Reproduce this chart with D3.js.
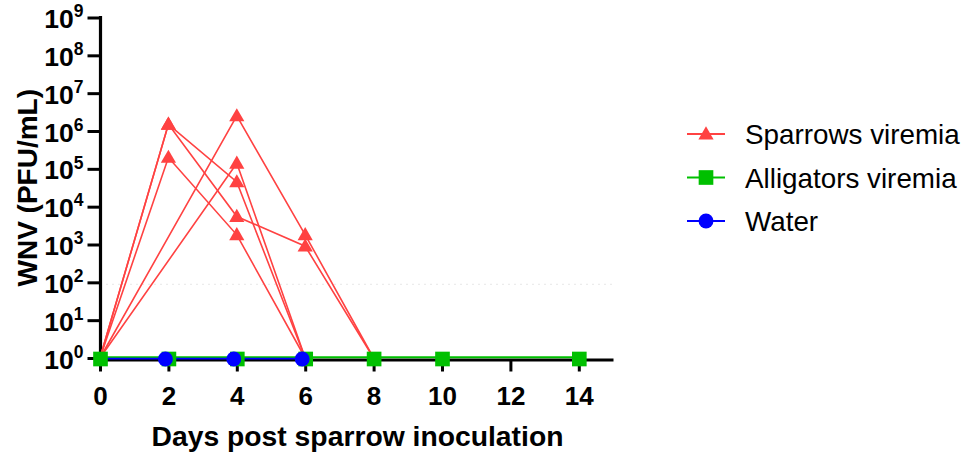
<!DOCTYPE html>
<html>
<head>
<meta charset="utf-8">
<script src="https://cdn.jsdelivr.net/npm/d3@7/dist/d3.min.js"></script>
<style>
  html, body { margin: 0; padding: 0; background: #fff; }
  svg { display: block; font-family: "Liberation Sans", Arial, sans-serif; }
</style>
</head>
<body>
<svg id="chart" width="966" height="453"></svg>
<script>
// ---- data ----
// Days on which sparrow sera were titrated
const sparrowDays = [0, 2, 4, 6, 8];
// One row per sparrow; null = not sampled that day
const sparrowTiters = [
  [1, 1.5e6, 4.5e4, 1,     null],
  [1, 1.5e6, 5.5e3, 900,   1],
  [1, 2.0e5, 1.8e3, 1,     null],
  [1, null,  2.5e6, 1.8e3, 1],
  [1, null,  1.4e5, 1,     null]
];
const alligatorDays = [0, 2, 4, 6, 8, 10, 14];
const alligatorTiters = [1, 1, 1, 1, 1, 1, 1];
const waterDays = [0, 2, 4, 6];
const waterTiters = [1, 1, 1, 1];

const xTicks = [0, 2, 4, 6, 8, 10, 12, 14];
const yTickExponents = [0, 1, 2, 3, 4, 5, 6, 7, 8, 9];
const detectionLimit = 100;

const legendLabels = ["Sparrows viremia", "Alligators viremia", "Water"];

// ---- layout ----
const colors = { sparrow: "#FF4242", alligator: "#00C000", water: "#0000FF" };
const svg = d3.select("#chart");

const x = d3.scaleLinear().domain([0, 15]).range([100, 613]);
const y = d3.scaleLog().domain([1, 1e9]).range([358, 17.5]);

// faint dotted reference line
svg.append("line")
  .attr("x1", x(0)).attr("x2", x(15))
  .attr("y1", y(detectionLimit) + 2).attr("y2", y(detectionLimit) + 2)
  .attr("stroke", "#ececec").attr("stroke-width", 1.2)
  .attr("stroke-dasharray", "2,4");

// x axis
const xAxis = svg.append("g")
  .attr("transform", `translate(0,${y(1) + 1.5})`)
  .call(d3.axisBottom(x).tickValues(xTicks).tickSize(12).tickSizeOuter(0).tickPadding(15));
xAxis.select(".domain").attr("stroke-width", 3.2);
xAxis.selectAll(".tick line").attr("stroke-width", 3);
xAxis.selectAll(".tick text")
  .attr("font-size", 26).attr("font-weight", "bold")
  .attr("font-family", "Liberation Sans, Arial, sans-serif").attr("fill", "#000");

// y axis
const yAxis = svg.append("g")
  .attr("transform", `translate(${x(0) + 0.5},0)`)
  .call(d3.axisLeft(y).tickValues(yTickExponents.map(e => Math.pow(10, e)))
    .tickSize(13).tickSizeOuter(0).tickFormat(() => ""));
yAxis.select(".domain").attr("stroke-width", 3.2)
  .attr("d", `M0,${y(1e9) - 1.5}V${y(1) + 3}`);
yAxis.selectAll(".tick line").attr("stroke-width", 3);
yAxis.selectAll(".tick").each(function (d) {
  const t = d3.select(this).append("text")
    .attr("x", -17).attr("dy", "0.38em")
    .attr("text-anchor", "end").attr("fill", "#000")
    .attr("font-family", "Liberation Sans, Arial, sans-serif")
    .attr("font-weight", "bold").attr("font-size", 26.5);
  t.append("tspan").text("10");
  t.append("tspan").attr("font-size", 17.5).attr("dy", "-0.62em")
    .text(String(Math.round(Math.log10(d))));
});

// axis titles
svg.append("text")
  .attr("x", (x(0) + x(15)) / 2 + 1).attr("y", 446)
  .attr("text-anchor", "middle").attr("font-weight", "bold").attr("font-size", 28.3)
  .text("Days post sparrow inoculation");
svg.append("text")
  .attr("transform", `translate(37,${(y(1) + y(1e9)) / 2}) rotate(-90)`)
  .attr("text-anchor", "middle").attr("font-weight", "bold").attr("font-size", 28)
  .text("WNV (PFU/mL)");

// ---- series ----
const line = d3.line().x(d => x(d.day)).y(d => y(d.value));
const sparrowSeries = sparrowTiters.map(row =>
  row.map((v, i) => ({ day: sparrowDays[i], value: v })).filter(d => d.value !== null));
const alligatorSeries = alligatorDays.map((d, i) => ({ day: d, value: alligatorTiters[i] }));
const waterSeries = waterDays.map((d, i) => ({ day: d, value: waterTiters[i] }));

const triangle = d3.symbol().type(d3.symbolTriangle).size(100);
const square = d3.symbol().type(d3.symbolSquare).size(215);
const circle = d3.symbol().type(d3.symbolCircle).size(175);

// sparrow lines and markers
svg.append("g").selectAll("path").data(sparrowSeries).join("path")
  .attr("d", line).attr("fill", "none")
  .attr("stroke", colors.sparrow).attr("stroke-width", 1.6);
svg.append("g").selectAll("path")
  .data(sparrowSeries.flat().filter(d => d.value > 1)).join("path")
  .attr("transform", d => `translate(${x(d.day)},${y(d.value) + 1})`)
  .attr("d", triangle).attr("fill", colors.sparrow);

// alligator and water lines (slightly separated so both stay visible)
svg.append("path").datum(alligatorSeries)
  .attr("d", line).attr("fill", "none")
  .attr("transform", "translate(0,-0.8)")
  .attr("stroke", colors.alligator).attr("stroke-width", 2);
svg.append("path").datum(waterSeries)
  .attr("d", line).attr("fill", "none")
  .attr("transform", "translate(0,0.6)")
  .attr("stroke", colors.water).attr("stroke-width", 1.6);

// markers: water circles sit over alligator squares, except at day 0
svg.append("g").selectAll("path").data(alligatorSeries).join("path")
  .attr("transform", d => `translate(${x(d.day) + 0.5},${y(d.value) + 1})`)
  .attr("d", square).attr("fill", colors.alligator);
svg.append("g").selectAll("path").data(waterSeries.filter(d => d.day > 0)).join("path")
  .attr("transform", d => `translate(${x(d.day) - 3},${y(d.value) + 1})`)
  .attr("d", circle).attr("fill", colors.water);

// ---- legend ----
const legendItems = [
  { label: legendLabels[0], color: colors.sparrow, sym: triangle, dy: 1 },
  { label: legendLabels[1], color: colors.alligator, sym: square, dy: 0 },
  { label: legendLabels[2], color: colors.water, sym: circle, dy: 0 }
];
const legend = svg.append("g").selectAll("g").data(legendItems).join("g")
  .attr("transform", (d, i) => `translate(687,${134 + i * 43.5})`);
legend.append("line")
  .attr("x1", 0).attr("x2", 38).attr("y1", 0).attr("y2", 0)
  .attr("stroke", d => d.color).attr("stroke-width", 1.8);
legend.append("path")
  .attr("transform", d => `translate(19,${d.dy})`)
  .attr("d", d => d.sym()).attr("fill", d => d.color);
legend.append("text")
  .attr("x", 58).attr("dy", "0.36em")
  .attr("font-size", 27.8).attr("fill", "#000")
  .text(d => d.label);
</script>
</body>
</html>
